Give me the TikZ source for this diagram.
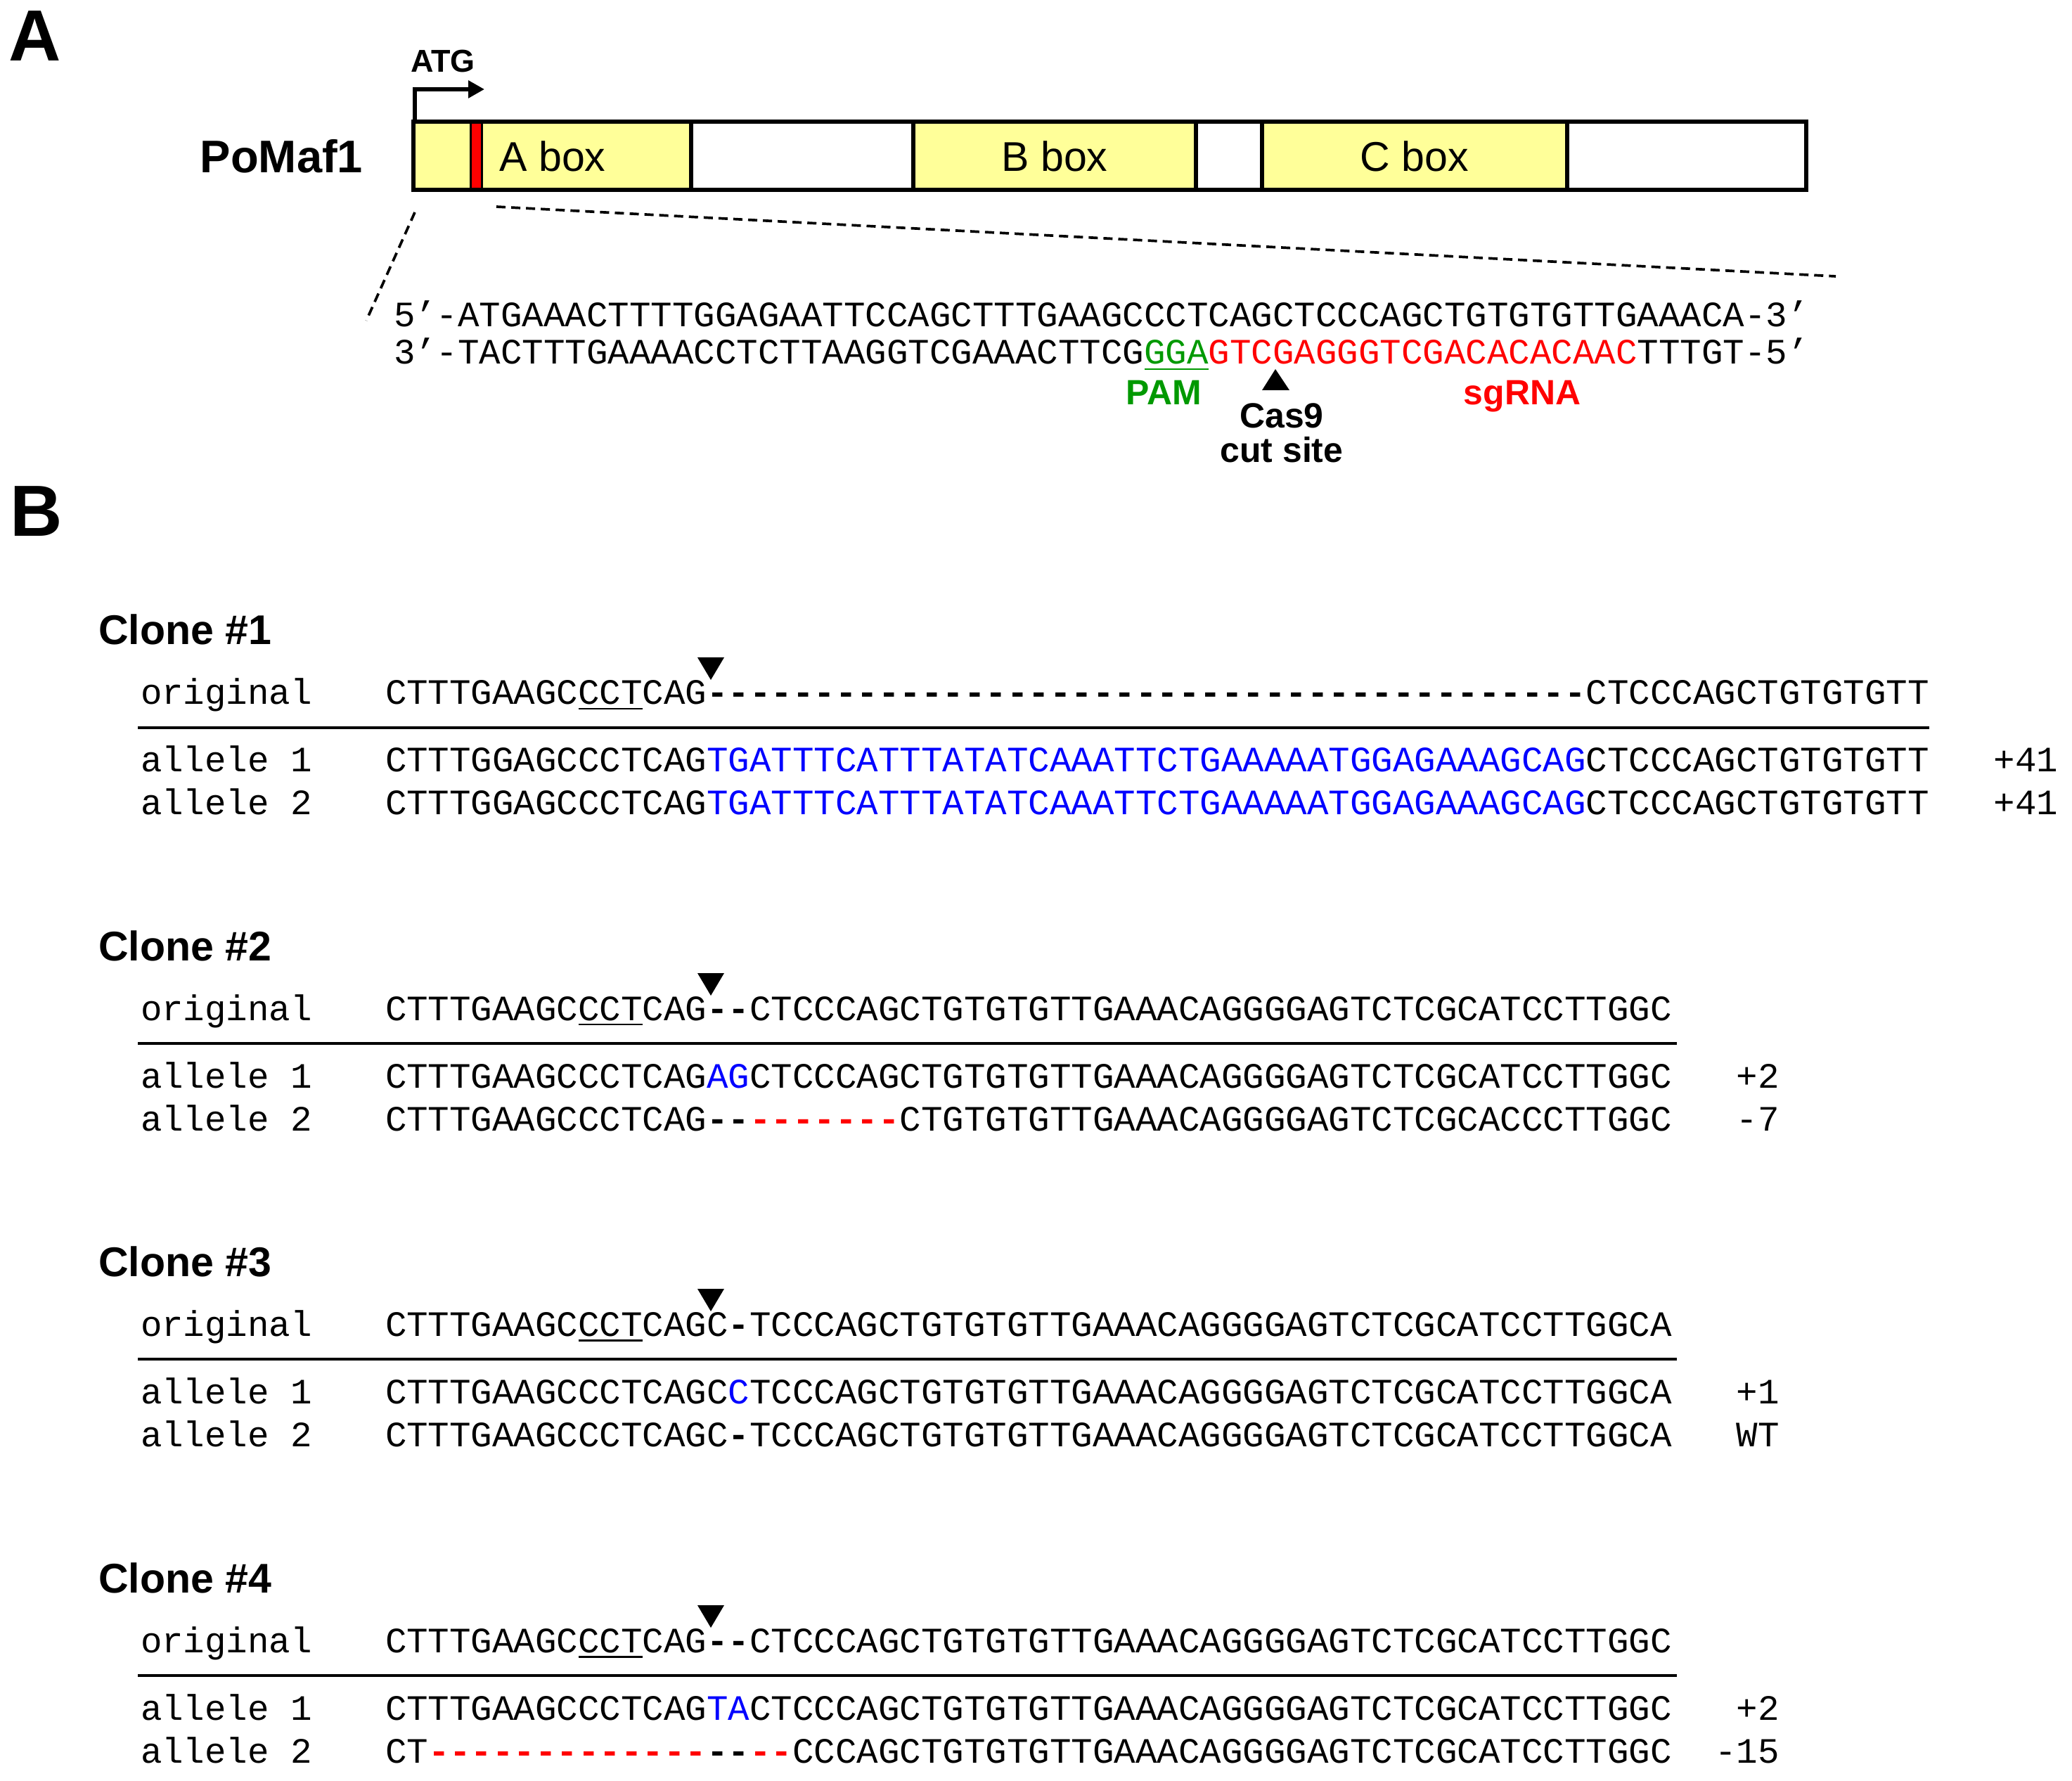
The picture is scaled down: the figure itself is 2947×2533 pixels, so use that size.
\documentclass[tikz,border=0pt]{standalone}
\usepackage{fontspec}
\setmainfont{Liberation Sans}
\setmonofont{Liberation Mono}
\usepackage{tikz}
\usetikzlibrary{arrows.meta,positioning}
\definecolor{boxyellow}{HTML}{FFFF99}
\definecolor{pamgreen}{HTML}{009900}
\definecolor{seqred}{HTML}{FF0000}
\definecolor{seqblue}{HTML}{0000FF}

\begin{document}
\begin{tikzpicture}[x=0.1mm,y=-0.1mm,
  every node/.style={inner sep=0pt,outer sep=0pt},
  panel/.style={font=\fontsize{29.3}{30}\selectfont\bfseries,anchor=base west},
  seq/.style={font=\fontsize{14.46}{16}\selectfont\ttfamily,anchor=base west},
  boxlab/.style={font=\fontsize{16.8}{18}\selectfont,anchor=base},
  lab/.style={font=\fontsize{14.2}{14.2}\selectfont\bfseries,anchor=base},
  clonehead/.style={font=\fontsize{16.8}{18}\selectfont\bfseries,anchor=base west},
  rule/.style={line width=1.15pt},
  zoomline/.style={line width=1.05pt,dash pattern=on 3.7pt off 2.3pt},
  cutmark/.style={fill=black}]

  \useasboundingbox (0,0) rectangle (2947,2533);

  \def\cw{30.5}
  \def\ins#1{\textcolor{seqblue}{#1}}
  \def\del#1{\textcolor{seqred}{\bfseries #1}}
  \def\gap#1{{\bfseries #1}}

  % panel letters
  \node[panel] (pA) at (13,87) {A};
  \node[panel] (pB) at (14,763) {B};

  % gene model (fill: yellow = conserved boxes)
  \def\gt{173}\def\gb{270}
  \fill[boxyellow] (588,\gt) rectangle (983,\gb);
  \fill[boxyellow] (1299,\gt) rectangle (1701,\gb);
  \fill[boxyellow] (1795,\gt) rectangle (2229,\gb);
  \filldraw[fill=seqred,line width=0.85pt] (669,\gt) rectangle (685,\gb);
  \foreach \xx in {983,1299,1701,1795,2229}
    \draw[line width=1.6pt] (\xx,\gt) -- (\xx,\gb);
  \draw[line width=1.85pt] (588,\gt) rectangle (2569,\gb);

  \node[font=\fontsize{18.5}{20}\selectfont\bfseries,anchor=base east] (gene) at (516,246) {PoMaf1};
  \node[boxlab] (boxA) at (786,244) {A box};
  \node[boxlab] (boxB) at (1500,244) {B box};
  \node[boxlab] (boxC) at (2012,244) {C box};

  % start codon
  \coordinate (tss) at (590,\gt);
  \coordinate (tsstip) at (689,127);
  \draw[line width=1.6pt,-{Triangle[length=6.5pt,width=6.8pt]}] (tss) |- (tsstip);
  \node[font=\fontsize{12.8}{14}\selectfont\bfseries,anchor=base west] (atg) at (584,103) {ATG};

  % zoom lines
  \coordinate (zl1) at (590,302); \coordinate (zl2) at (521,456);
  \coordinate (zr1) at (706,294); \coordinate (zr2) at (2611,393);
  \draw[zoomline] (zl1) -- (zl2);
  \draw[zoomline] (zr1) -- (zr2);

  % target sequence
  \node[seq] (top) at (560,465) {5’-ATGAAACTTTTGGAGAATTCCAGCTTTGAAGCCCTCAGCTCCCAGCTGTGTGTTGAAACA-3’};
  \node[seq] (bot) at (560,518) {3’-TACTTTGAAAACCTCTTAAGGTCGAAACTTCG\textcolor{pamgreen}{GGA}\textcolor{seqred}{GTCGAGGGTCGACACACAAC}TTTGT-5’};
  \draw[pamgreen,line width=0.8pt] ({560+35*\cw},525) -- ({560+38*\cw},525);
  \fill[cutmark] (1814,525) -- (1795,555) -- (1834,555) -- cycle;
  \node[lab,pamgreen] (pam) at (1655,576) {PAM};
  \node[lab,seqred] (sg) at (2165,576) {sgRNA};
  \node[lab,align=center] (cas) at (1823,658) {Cas9\\cut site};

  % Clone #1
  \begin{scope}[shift={(0,917)}]
    \node[clonehead] (c1) at (140,0) {Clone \#1};
    \fill[cutmark] (992,18) -- (1030,18) -- (1011,50) -- cycle;
    \node[seq] (c1ol) at (200,85) {original};
    \node[seq] (c1o) at (548,85) {CTTTGAAGCCCTCAG\gap{-----------------------------------------}CTCCCAGCTGTGTGTT};
    \draw[line width=0.85pt] ({548+9*\cw},91) -- ({548+12*\cw},91);
    \draw[rule] (196,118) -- (2744,118);
    \node[seq] (c1al) at (200,181) {allele 1};
    \node[seq] (c1a) at (548,181) {CTTTGGAGCCCTCAG\ins{TGATTTCATTTATATCAAATTCTGAAAAATGGAGAAAGCAG}CTCCCAGCTGTGTGTT};
    \node[seq] (c1an) at ({548+75*\cw},181) {+41};
    \node[seq] (c1bl) at (200,242) {allele 2};
    \node[seq] (c1b) at (548,242) {CTTTGGAGCCCTCAG\ins{TGATTTCATTTATATCAAATTCTGAAAAATGGAGAAAGCAG}CTCCCAGCTGTGTGTT};
    \node[seq] (c1bn) at ({548+75*\cw},242) {+41};
  \end{scope}

  % Clone #2
  \begin{scope}[shift={(0,1366)}]
    \node[clonehead] (c2) at (140,0) {Clone \#2};
    \fill[cutmark] (992,18) -- (1030,18) -- (1011,50) -- cycle;
    \node[seq] (c2ol) at (200,85) {original};
    \node[seq] (c2o) at (548,85) {CTTTGAAGCCCTCAG\gap{--}CTCCCAGCTGTGTGTTGAAACAGGGGAGTCTCGCATCCTTGGC};
    \draw[line width=0.85pt] ({548+9*\cw},91) -- ({548+12*\cw},91);
    \draw[rule] (196,118) -- (2385,118);
    \node[seq] (c2al) at (200,181) {allele 1};
    \node[seq] (c2a) at (548,181) {CTTTGAAGCCCTCAG\ins{AG}CTCCCAGCTGTGTGTTGAAACAGGGGAGTCTCGCATCCTTGGC};
    \node[seq] (c2an) at ({548+63*\cw},181) {+2};
    \node[seq] (c2bl) at (200,242) {allele 2};
    \node[seq] (c2b) at (548,242) {CTTTGAAGCCCTCAG\gap{--}\del{-------}CTGTGTGTTGAAACAGGGGAGTCTCGCACCCTTGGC};
    \node[seq] (c2bn) at ({548+63*\cw},242) {-7};
  \end{scope}

  % Clone #3
  \begin{scope}[shift={(0,1815)}]
    \node[clonehead] (c3) at (140,0) {Clone \#3};
    \fill[cutmark] (992,18) -- (1030,18) -- (1011,50) -- cycle;
    \node[seq] (c3ol) at (200,85) {original};
    \node[seq] (c3o) at (548,85) {CTTTGAAGCCCTCAGC\gap{-}TCCCAGCTGTGTGTTGAAACAGGGGAGTCTCGCATCCTTGGCA};
    \draw[line width=0.85pt] ({548+9*\cw},91) -- ({548+12*\cw},91);
    \draw[rule] (196,118) -- (2385,118);
    \node[seq] (c3al) at (200,181) {allele 1};
    \node[seq] (c3a) at (548,181) {CTTTGAAGCCCTCAGC\ins{C}TCCCAGCTGTGTGTTGAAACAGGGGAGTCTCGCATCCTTGGCA};
    \node[seq] (c3an) at ({548+63*\cw},181) {+1};
    \node[seq] (c3bl) at (200,242) {allele 2};
    \node[seq] (c3b) at (548,242) {CTTTGAAGCCCTCAGC\gap{-}TCCCAGCTGTGTGTTGAAACAGGGGAGTCTCGCATCCTTGGCA};
    \node[seq] (c3bn) at ({548+63*\cw},242) {WT};
  \end{scope}

  % Clone #4
  \begin{scope}[shift={(0,2265)}]
    \node[clonehead] (c4) at (140,0) {Clone \#4};
    \fill[cutmark] (992,18) -- (1030,18) -- (1011,50) -- cycle;
    \node[seq] (c4ol) at (200,85) {original};
    \node[seq] (c4o) at (548,85) {CTTTGAAGCCCTCAG\gap{--}CTCCCAGCTGTGTGTTGAAACAGGGGAGTCTCGCATCCTTGGC};
    \draw[line width=0.85pt] ({548+9*\cw},91) -- ({548+12*\cw},91);
    \draw[rule] (196,118) -- (2385,118);
    \node[seq] (c4al) at (200,181) {allele 1};
    \node[seq] (c4a) at (548,181) {CTTTGAAGCCCTCAG\ins{TA}CTCCCAGCTGTGTGTTGAAACAGGGGAGTCTCGCATCCTTGGC};
    \node[seq] (c4an) at ({548+63*\cw},181) {+2};
    \node[seq] (c4bl) at (200,242) {allele 2};
    \node[seq] (c4b) at (548,242) {CT\del{-------------}\gap{--}\del{--}CCCAGCTGTGTGTTGAAACAGGGGAGTCTCGCATCCTTGGC};
    \node[seq] (c4bn) at ({548+62*\cw},242) {-15};
  \end{scope}

\end{tikzpicture}
\end{document}
